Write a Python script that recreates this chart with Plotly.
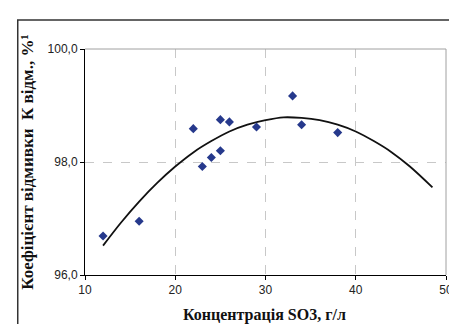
import plotly.graph_objects as go

# measured points
conc = [12, 16, 22, 23, 24, 25, 25, 26, 29, 33, 34, 38]
coef = [96.69, 96.95, 98.59, 97.92, 98.08, 98.20, 98.75, 98.71, 98.62, 99.17, 98.66, 98.52]

# trend line values
trend_x = [12, 14, 16, 18, 20, 22, 24, 26, 28, 30, 32, 34, 36, 38, 40, 42, 44, 46, 48.5]
trend_y = [96.52, 96.93, 97.30, 97.63, 97.92, 98.17, 98.37, 98.54, 98.66, 98.74, 98.79,
           98.78, 98.74, 98.66, 98.54, 98.37, 98.17, 97.92, 97.55]

x_ticks = [10, 20, 30, 40, 50]
y_ticks = [96.0, 98.0, 100.0]

x_title = "Концентрація SO3, г/л"
y_title = "Коефіцієнт відмивки  К відм., %¹"

W, H = 457, 324
ml, mr, mt, mb = 77, 15, 41, 57
pw, ph = W - ml - mr, H - mt - mb

def px(x):
    return (x - ml) / pw

def py(y):
    return (H - mb - y) / ph

fig = go.Figure()
fig.add_trace(go.Scatter(x=trend_x, y=trend_y, mode="lines",
                         line=dict(color="#111111", width=1.8, shape="spline"),
                         hoverinfo="skip"))
fig.add_trace(go.Scatter(x=conc, y=coef, mode="markers",
                         marker=dict(symbol="diamond", size=7, color="#26398C")))

axis_font = dict(family="Liberation Sans, Arial", size=12, color="#222222")
fig.update_xaxes(range=[10, 50], tickvals=x_ticks, showgrid=True, gridcolor="#C8C8C8",
                 griddash="dash", gridwidth=1, showline=True, linecolor="#000000",
                 linewidth=1, ticks="outside", ticklen=4, tickcolor="#000000",
                 tickfont=axis_font, zeroline=False)
fig.update_yaxes(range=[96, 100], tickvals=y_ticks, tickformat=".1f", showgrid=True,
                 gridcolor="#C8C8C8", griddash="dash", gridwidth=1, showline=True,
                 linecolor="#000000", linewidth=1, ticks="outside", ticklen=4,
                 tickcolor="#000000", tickfont=axis_font, zeroline=False)

fig.update_layout(
    width=W, height=H, margin=dict(l=ml, r=mr, t=mt, b=mb),
    paper_bgcolor="white", plot_bgcolor="white", showlegend=False,
    separators=",.",
    shapes=[
        dict(type="path", xref="paper", yref="paper",
             path=f"M {px(9)} {py(324)} L {px(9)} {py(12)} L {px(457)} {py(12)}",
             line=dict(color="#333333", width=1.5)),
        dict(type="path", xref="paper", yref="paper", layer="above",
             path="M 0 1 L 1 1 L 1 0", line=dict(color="#A0A0A0", width=1)),
    ],
    annotations=[
        dict(text=x_title, xref="paper", yref="paper", x=px(258.5), y=py(307),
             showarrow=False, xanchor="center", yanchor="middle",
             font=dict(family="Liberation Serif, Times New Roman", size=16,
                       color="#111111", weight="bold")),
        dict(text=y_title, xref="paper", yref="paper", x=px(18), y=py(154),
             showarrow=False, xanchor="center", yanchor="middle", textangle=-90,
             font=dict(family="Liberation Serif, Times New Roman", size=17,
                       color="#111111", weight="bold")),
    ],
)

fig.write_html("out.html")
